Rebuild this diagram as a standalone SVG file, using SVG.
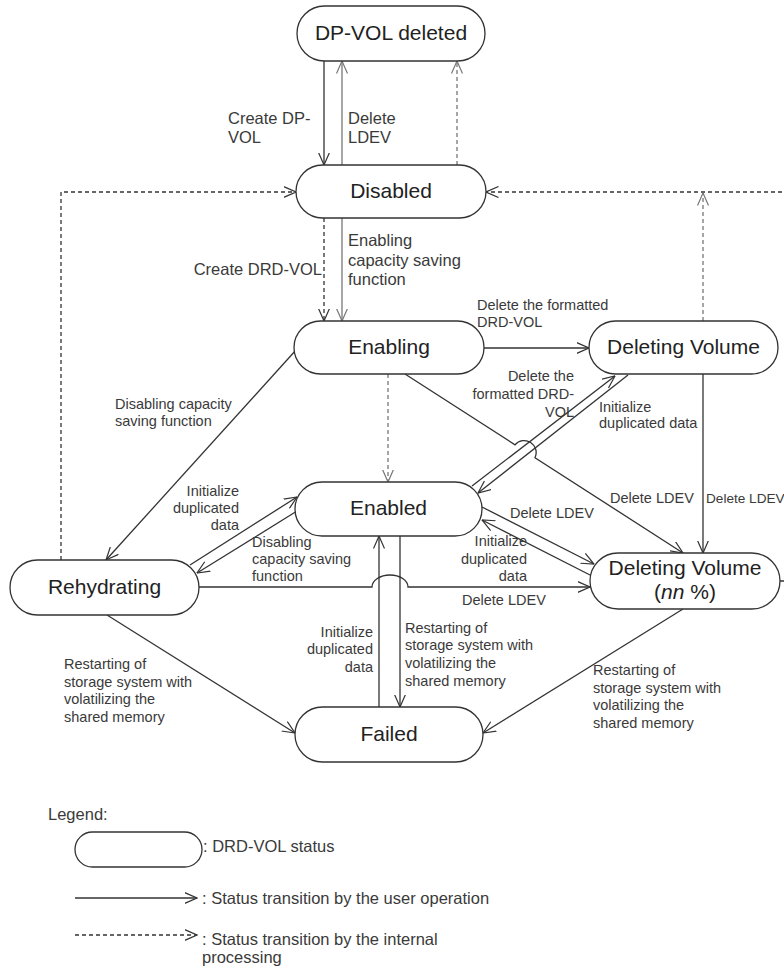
<svg xmlns="http://www.w3.org/2000/svg" width="784" height="970" viewBox="0 0 784 970">
  <style>
    .node rect { fill: #fff; stroke: #333; stroke-width: 1.3; }
    .node text { font-family: "Liberation Sans", Arial, sans-serif; font-size: 21px; fill: #222; text-anchor: middle; }
    .lbl { font-family: "Liberation Sans", Arial, sans-serif; font-size: 14.5px; fill: #3a3a3a; }
    .lbl-l { font-family: "Liberation Sans", Arial, sans-serif; font-size: 16.5px; fill: #3a3a3a; }
    .end { text-anchor: end; }
    .c { fill: none; stroke: #333; stroke-width: 1.3; marker-end: url(#arr); }
    .cg { fill: none; stroke: #777; stroke-width: 1.3; marker-end: url(#arrg); }
    .dash { stroke-dasharray: 4 3; }
  </style>
  <defs>
    <marker id="arr" viewBox="0 0 13 12" refX="12.5" refY="6" markerWidth="13" markerHeight="12" markerUnits="userSpaceOnUse" orient="auto">
      <path d="M0,0.5 L12.5,6 L0,11.5" fill="none" stroke="#333" stroke-width="1.2"/>
    </marker>
    <marker id="arrg" viewBox="0 0 13 12" refX="12.5" refY="6" markerWidth="13" markerHeight="12" markerUnits="userSpaceOnUse" orient="auto">
      <path d="M0,0.5 L12.5,6 L0,11.5" fill="none" stroke="#777" stroke-width="1.2"/>
    </marker>
  </defs>

  <rect width="784" height="970" fill="#fff"/>

  <!-- transitions -->
  <g id="connectors">
    <path class="c" d="M324,61 V165"/>
    <path class="cg" d="M342,165 V61"/>
    <path class="cg dash" d="M457,165 V61"/>
    <path class="c dash" d="M61,560 V192 H296"/>
    <path class="c dash" d="M780,581 H800 V192 H486"/>
    <path class="cg dash" d="M703,321 V193"/>
    <path class="cg" d="M342,218 V321"/>
    <path class="c dash" d="M324,218 V321"/>
    <path class="c" d="M483,348 H589"/>
    <path class="cg dash" d="M388,374 V482"/>
    <path class="c" d="M296,350 L106,560"/>
    <path class="c" d="M405,374 L515,444.8 A12,12 0 0 1 535,457.7 L683,553"/>
    <path class="c" d="M703,374 V553"/>
    <path class="c" d="M472,486 L615,376"/>
    <path class="c" d="M628,375 L478,493"/>
    <path class="c" d="M190,565 L297,497"/>
    <path class="c" d="M297,511 L197,573"/>
    <path class="c" d="M199,587 H372 A18,12 0 0 1 408,587 H590"/>
    <path class="c" d="M482,507 L594,564"/>
    <path class="c" d="M592,576 L482,520"/>
    <path class="c" d="M379,707 V536"/>
    <path class="c" d="M400,536 V707"/>
    <path class="c" d="M107,615 L295,733"/>
    <path class="c" d="M683,609 L483,733"/>
  </g>

  <!-- transition labels -->
  <g id="labels">
    <text class="lbl-l" x="228" y="124">Create DP-</text>
    <text class="lbl-l" x="228" y="143">VOL</text>
    <text class="lbl-l" x="348" y="124">Delete</text>
    <text class="lbl-l" x="348" y="143">LDEV</text>
    <text class="lbl-l end" x="322" y="275">Create DRD-VOL</text>
    <text class="lbl-l" x="348" y="246">Enabling</text>
    <text class="lbl-l" x="348" y="266">capacity saving</text>
    <text class="lbl-l" x="348" y="285">function</text>

    <text class="lbl" x="477" y="310">Delete the formatted</text>
    <text class="lbl" x="477" y="327">DRD-VOL</text>

    <text class="lbl" x="115" y="409">Disabling capacity</text>
    <text class="lbl" x="115" y="426">saving function</text>

    <text class="lbl end" x="574" y="381">Delete the</text>
    <text class="lbl end" x="574" y="399">formatted DRD-</text>
    <text class="lbl end" x="574" y="417">VOL</text>

    <text class="lbl" x="599" y="412">Initialize</text>
    <text class="lbl" x="599" y="428">duplicated data</text>

    <text class="lbl" x="610" y="503">Delete LDEV</text>
    <text class="lbl" x="706" y="503" style="font-size:13.6px">Delete LDEV</text>

    <text class="lbl end" x="239" y="496">Initialize</text>
    <text class="lbl end" x="239" y="513">duplicated</text>
    <text class="lbl end" x="239" y="530">data</text>

    <text class="lbl" x="252" y="547">Disabling</text>
    <text class="lbl" x="252" y="564">capacity saving</text>
    <text class="lbl" x="252" y="581">function</text>

    <text class="lbl" x="510" y="518">Delete LDEV</text>

    <text class="lbl end" x="527" y="546">Initialize</text>
    <text class="lbl end" x="527" y="564">duplicated</text>
    <text class="lbl end" x="527" y="581">data</text>

    <text class="lbl" x="462" y="605">Delete LDEV</text>

    <text class="lbl end" x="373" y="637">Initialize</text>
    <text class="lbl end" x="373" y="654">duplicated</text>
    <text class="lbl end" x="373" y="672">data</text>

    <text class="lbl" x="405" y="633">Restarting of</text>
    <text class="lbl" x="405" y="650">storage system with</text>
    <text class="lbl" x="405" y="668">volatilizing the</text>
    <text class="lbl" x="405" y="686">shared memory</text>

    <text class="lbl" x="64" y="669">Restarting of</text>
    <text class="lbl" x="64" y="687">storage system with</text>
    <text class="lbl" x="64" y="704">volatilizing the</text>
    <text class="lbl" x="64" y="722">shared memory</text>

    <text class="lbl" x="593" y="675">Restarting of</text>
    <text class="lbl" x="593" y="693">storage system with</text>
    <text class="lbl" x="593" y="710">volatilizing the</text>
    <text class="lbl" x="593" y="728">shared memory</text>
  </g>

  <!-- states -->
  <g id="dpvol-deleted" class="node">
    <rect x="297" y="6" width="188" height="55" rx="27.5"/>
    <text x="391" y="40">DP-VOL deleted</text>
  </g>
  <g id="disabled" class="node">
    <rect x="296" y="165" width="190" height="53" rx="26.5"/>
    <text x="391" y="198">Disabled</text>
  </g>
  <g id="enabling" class="node">
    <rect x="294" y="321" width="190" height="53" rx="26.5"/>
    <text x="389" y="354">Enabling</text>
  </g>
  <g id="deleting-volume" class="node">
    <rect x="589" y="321" width="189" height="53" rx="26.5"/>
    <text x="683.5" y="354">Deleting Volume</text>
  </g>
  <g id="enabled" class="node">
    <rect x="295" y="482" width="187" height="54" rx="27"/>
    <text x="388.5" y="515">Enabled</text>
  </g>
  <g id="rehydrating" class="node">
    <rect x="10" y="560" width="189" height="55" rx="27.5"/>
    <text x="104.5" y="594">Rehydrating</text>
  </g>
  <g id="deleting-volume-pct" class="node">
    <rect x="590" y="553" width="190" height="56" rx="28"/>
    <text x="685" y="575">Deleting Volume</text>
    <text x="685" y="599">(<tspan font-style="italic">nn</tspan> %)</text>
  </g>
  <g id="failed" class="node">
    <rect x="295" y="707" width="188" height="55" rx="27.5"/>
    <text x="389" y="741">Failed</text>
  </g>

  <!-- legend -->
  <g id="legend">
    <text class="lbl-l" x="48" y="820">Legend:</text>
    <rect x="75" y="832" width="127" height="35" rx="17.5" fill="#fff" stroke="#333" stroke-width="1.3"/>
    <text class="lbl-l" x="203" y="852">: DRD-VOL status</text>
    <path class="c" d="M75,898 H197"/>
    <text class="lbl-l" x="202" y="904">: Status transition by the user operation</text>
    <path class="c dash" d="M75,935 H197"/>
    <text class="lbl-l" x="202" y="945">: Status transition by the internal</text>
    <text class="lbl-l" x="202" y="963">processing</text>
  </g>
</svg>
